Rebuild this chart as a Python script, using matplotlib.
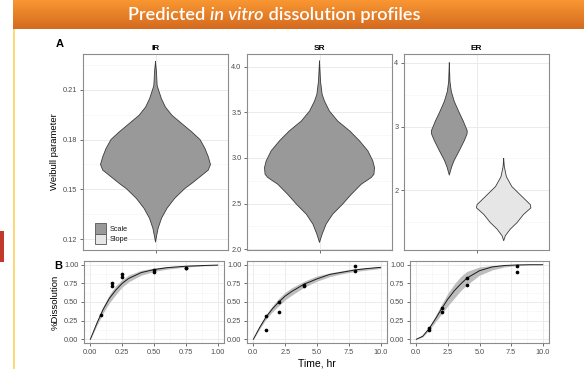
import numpy as np
import matplotlib
matplotlib.use("Agg")
import matplotlib.pyplot as plt
from matplotlib.patches import Rectangle, Patch

# ---------------- data ----------------
# Violin profiles: parameter value and relative density (half width)
ir_scale_val = [0.227, 0.2206, 0.2126, 0.21, 0.2046, 0.1996, 0.1946, 0.1896, 0.1846, 0.18,
                0.1746, 0.1696, 0.165, 0.1616, 0.1576, 0.1536, 0.1504, 0.1446, 0.1386,
                0.1326, 0.1266, 0.1216, 0.1182]
ir_scale_dens = [0, 0.018, 0.03, 0.054, 0.108, 0.18, 0.30, 0.48, 0.66, 0.81, 0.90, 0.96, 1.0,
                 0.96, 0.81, 0.66, 0.53, 0.35, 0.21, 0.11, 0.048, 0.018, 0]

sr_scale_val = [4.062, 3.843, 3.697, 3.624, 3.515, 3.405, 3.296, 3.186, 3.077, 2.967, 2.894,
                2.821, 2.785, 2.712, 2.602, 2.493, 2.383, 2.274, 2.164, 2.073]
sr_scale_dens = [0, 0.018, 0.048, 0.09, 0.18, 0.33, 0.55, 0.73, 0.88, 0.97, 1.0, 0.99, 0.94,
                 0.76, 0.58, 0.42, 0.24, 0.12, 0.048, 0]

er_scale_val = [4.0, 3.706, 3.552, 3.397, 3.242, 3.088, 2.933, 2.881, 2.778, 2.624, 2.469,
                2.366, 2.237]
er_scale_dens = [0, 0.024, 0.073, 0.18, 0.34, 0.51, 0.66, 0.65, 0.55, 0.37, 0.18, 0.085, 0]
er_slope_val = [2.495, 2.366, 2.211, 2.057, 1.902, 1.773, 1.722, 1.619, 1.490, 1.387, 1.284, 1.206]
er_slope_dens = [0, 0.024, 0.10, 0.30, 0.67, 0.98, 1.0, 0.73, 0.49, 0.24, 0.06, 0]

panels_a = ["IR", "SR", "ER"]
legend_labels = ["Scale", "Slope"]

# Dissolution profiles: predicted mean, lower, upper
ir_t = [0, 0.05, 0.1, 0.15, 0.2, 0.25, 0.3, 0.4, 0.5, 0.6, 0.75, 0.9, 1.0]
ir_mean = [0, 0.21, 0.40, 0.55, 0.66, 0.75, 0.815, 0.895, 0.935, 0.96, 0.98, 0.99, 0.995]
ir_lo = [0, 0.18, 0.35, 0.49, 0.60, 0.70, 0.77, 0.86, 0.91, 0.94, 0.97, 0.985, 0.99]
ir_hi = [0, 0.24, 0.44, 0.60, 0.72, 0.80, 0.86, 0.925, 0.955, 0.975, 0.99, 0.996, 0.998]
ir_obs_t = [0.083, 0.167, 0.167, 0.25, 0.25, 0.5, 0.5, 0.75, 0.75]
ir_obs = [0.33, 0.75, 0.72, 0.87, 0.84, 0.93, 0.90, 0.96, 0.95]

sr_t = [0, 0.5, 1, 1.5, 2, 2.5, 3, 4, 5, 6, 7, 8, 9, 10]
sr_mean = [0, 0.16, 0.30, 0.41, 0.50, 0.58, 0.64, 0.74, 0.81, 0.87, 0.90, 0.93, 0.95, 0.965]
sr_lo = [0, 0.14, 0.27, 0.37, 0.45, 0.53, 0.59, 0.70, 0.78, 0.84, 0.88, 0.91, 0.93, 0.95]
sr_hi = [0, 0.18, 0.33, 0.45, 0.55, 0.63, 0.69, 0.78, 0.85, 0.89, 0.92, 0.95, 0.96, 0.975]
sr_obs_t = [1, 1, 2, 2, 4, 4, 8, 8]
sr_obs = [0.31, 0.12, 0.50, 0.37, 0.73, 0.72, 0.985, 0.915]

er_t = [0, 0.5, 1, 1.5, 2, 2.5, 3, 3.5, 4, 5, 6, 7, 8, 9, 10]
er_mean = [0, 0.04, 0.14, 0.27, 0.41, 0.54, 0.65, 0.74, 0.82, 0.92, 0.97, 0.99, 0.997, 1.0, 1.0]
er_lo = [0, 0.03, 0.12, 0.23, 0.34, 0.45, 0.55, 0.65, 0.73, 0.86, 0.93, 0.97, 0.99, 0.998, 1.0]
er_hi = [0, 0.05, 0.16, 0.31, 0.47, 0.62, 0.74, 0.84, 0.91, 0.97, 0.99, 0.998, 1.0, 1.0, 1.0]
er_obs_t = [1, 1, 2, 2, 4, 4, 8, 8]
er_obs = [0.15, 0.125, 0.42, 0.36, 0.82, 0.725, 0.98, 0.90]

# ---------------- style ----------------
W, H = 584, 369
plt.rcParams['font.family'] = ['Liberation Sans', 'DejaVu Sans']
fig = plt.figure(figsize=(W / 100, H / 100), dpi=100)

def px_axes(x0, y0, x1, y1):
    return fig.add_axes([x0 / W, 1 - y1 / H, (x1 - x0) / W, (y1 - y0) / H])

DARK = '#999999'
LIGHT = '#e6e6e6'
EDGE = '#3a3a3a'
GRID = '#ebebeb'
TICKC = '#4d4d4d'

def style(ax):
    ax.set_facecolor('white')
    for s in ax.spines.values():
        s.set_color('#8c8c8c')
        s.set_linewidth(0.8)
    ax.tick_params(axis='both', length=2.5, width=0.6, color='#555555',
                   labelsize=5.3, labelcolor=TICKC, pad=1.5)
    ax.set_axisbelow(True)
    ax.grid(True, which='major', color=GRID, lw=0.7)
    ax.grid(True, which='minor', color='#f4f4f4', lw=0.4)
    ax.tick_params(which='minor', length=0)

def violin(ax, center, half, vals, dens, color):
    v = np.asarray(vals)
    d = np.asarray(dens) * half
    ax.fill_betweenx(v, center - d, center + d, facecolor=color, edgecolor='none', zorder=2)
    ax.plot(np.r_[center - d, (center + d)[::-1], (center - d)[0]],
            np.r_[v, v[::-1], v[0]], color=EDGE, lw=0.6, zorder=3)

# ---------------- header / slide decorations ----------------
hdr = fig.add_axes([13 / W, 1 - 29 / H, (W - 13) / W, 29 / H])
grad = np.linspace(0, 1, 64)[:, None]
top = np.array([0xf9, 0x97, 0x32]) / 255
bot = np.array([0xd4, 0x6a, 0x1f]) / 255
img = top[None, None, :] * (1 - grad[:, :, None]) + bot[None, None, :] * grad[:, :, None]
hdr.imshow(img, aspect='auto', extent=[0, 1, 0, 1])
hdr.set_axis_off()

fig.add_artist(Rectangle((13 / W, 0), 2 / W, (H - 29) / H, transform=fig.transFigure,
                         facecolor='#fed97a', edgecolor='none'))
fig.add_artist(Rectangle((0, 1 - 262 / H), 4 / W, 31 / H, transform=fig.transFigure,
                         facecolor='#c0392b', edgecolor='none'))

# title with italic part, sized to the reference width
renderer = fig.canvas.get_renderer()
parts = [("Predicted ", 'normal'), ("in vitro", 'italic'), (" dissolution profiles", 'normal')]
tfont = dict(family=['Lato', 'DejaVu Sans'], color='white', weight='semibold')
target_w = 292
size = 14.0
objs = [fig.text(0, 0, txt, style=st, size=size, **tfont) for txt, st in parts]
tot = sum(o.get_window_extent(renderer).width for o in objs)
size = size * target_w / tot
for o in objs:
    o.set_fontsize(size)
widths = [o.get_window_extent(renderer).width for o in objs]
total = sum(widths)
xstart = 274 - total / 2
yc = 1 - 15 / H
for t, w in zip(objs, widths):
    t.set_position((xstart / W, yc))
    t.set_va('center')
    xstart += w

# ---------------- panel A ----------------
a_boxes = [(83, 228), (247, 392), (404, 549)]
ay0, ay1 = 54, 250
axA = [px_axes(x0, ay0, x1, ay1) for x0, x1 in a_boxes]

# IR
ax = axA[0]
style(ax)
violin(ax, 1, 0.455, ir_scale_val, ir_scale_dens, DARK)
ax.set_ylim(0.1134, 0.2316)
ax.set_yticks([0.12, 0.15, 0.18, 0.21])
ax.set_yticklabels(["0.12", "0.15", "0.18", "0.21"])
ax.set_yticks([0.135, 0.165, 0.195, 0.225], minor=True)
ax.set_ylabel("Weibull parameter", fontsize=6.8, color='black', labelpad=3)
leg = ax.legend(handles=[Patch(facecolor=DARK, edgecolor='#555555', lw=0.6),
                         Patch(facecolor=LIGHT, edgecolor='#555555', lw=0.6)],
                labels=legend_labels, loc='lower left', bbox_to_anchor=(0.045, 0.0),
                frameon=False, fontsize=5.3, handlelength=1.45, handleheight=1.75,
                labelspacing=0.05, handletextpad=0.5, borderpad=0.3)
for t in leg.get_texts():
    t.set_color('#1a1a1a')

# SR
ax = axA[1]
style(ax)
violin(ax, 1, 0.455, sr_scale_val, sr_scale_dens, DARK)
ax.set_ylim(1.99, 4.14)
ax.set_yticks([2.0, 2.5, 3.0, 3.5, 4.0])
ax.set_yticklabels(["2.0", "2.5", "3.0", "3.5", "4.0"])
ax.set_yticks([2.25, 2.75, 3.25, 3.75], minor=True)

# ER
ax = axA[2]
style(ax)
violin(ax, 1 - 0.225, 0.225, er_scale_val, er_scale_dens, DARK)
violin(ax, 1 + 0.225, 0.225, er_slope_val, er_slope_dens, LIGHT)
ax.set_ylim(1.06, 4.14)
ax.set_yticks([2, 3, 4])
ax.set_yticklabels(["2", "3", "4"])
ax.set_yticks([1.5, 2.5, 3.5], minor=True)

for ax, name in zip(axA, panels_a):
    ax.set_xlim(0.4, 1.6)
    ax.set_xticks([1])
    ax.set_xticklabels([""])
    ax.set_title(name, fontsize=6, fontweight='bold', pad=3)

fig.text(56 / W, 1 - 44 / H, "A", fontsize=8, fontweight='bold', va='center', ha='left')

# ---------------- panel B ----------------
b_boxes = [(84, 224), (247, 387), (410, 549)]
by0, by1 = 261, 343
axB = [px_axes(x0, by0, x1, by1) for x0, x1 in b_boxes]
series = [(ir_t, ir_mean, ir_lo, ir_hi, ir_obs_t, ir_obs),
          (sr_t, sr_mean, sr_lo, sr_hi, sr_obs_t, sr_obs),
          (er_t, er_mean, er_lo, er_hi, er_obs_t, er_obs)]
for i, (ax, (t, m, lo, hi, ot, ob)) in enumerate(zip(axB, series)):
    style(ax)
    ax.fill_between(t, lo, hi, color='#bdbdbd', lw=0, zorder=2)
    ax.plot(t, m, color='#1a1a1a', lw=0.7, zorder=3)
    ax.scatter(ot, ob, s=7, color='black', zorder=4, lw=0)
    ax.set_ylim(-0.05, 1.05)
    ax.set_yticks([0, 0.25, 0.5, 0.75, 1.0])
    ax.set_yticklabels(["0.00", "0.25", "0.50", "0.75", "1.00"])
    ax.set_yticks([0.125, 0.375, 0.625, 0.875], minor=True)
    if i == 0:
        ax.set_xlim(-0.05, 1.05)
        ax.set_xticks([0, 0.25, 0.5, 0.75, 1.0])
        ax.set_xticklabels(["0.00", "0.25", "0.50", "0.75", "1.00"])
        ax.set_xticks([0.125, 0.375, 0.625, 0.875], minor=True)
        ax.set_ylabel("%Dissolution", fontsize=6.8, color='black', labelpad=3)
    else:
        ax.set_xlim(-0.5, 10.5)
        ax.set_xticks([0, 2.5, 5, 7.5, 10])
        ax.set_xticklabels(["0.0", "2.5", "5.0", "7.5", "10.0"])
        ax.set_xticks([1.25, 3.75, 6.25, 8.75], minor=True)
    if i == 1:
        ax.set_xlabel("Time, hr", fontsize=7.5, color='black', labelpad=2)

fig.text(54 / W, 1 - 266 / H, "B", fontsize=8, fontweight='bold', va='center', ha='left',
         zorder=10)

fig.savefig("out.png", dpi=100)
